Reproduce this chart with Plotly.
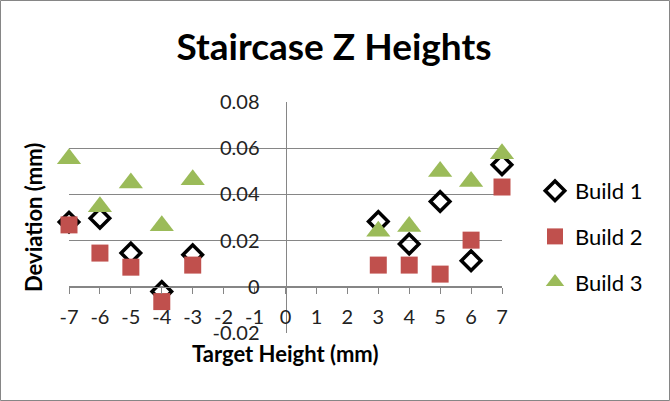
import plotly.graph_objects as go

# target heights (mm)
heights = [-7, -6, -5, -4, -3, 3, 4, 5, 6, 7]

# deviation (mm) per build
build1 = [0.028, 0.0297, 0.0146, -0.002, 0.0139, 0.0283, 0.0185, 0.0369, 0.0113, 0.0528]
build2 = [0.0268, 0.0146, 0.0085, -0.0064, 0.0094, 0.0094, 0.0094, 0.0055, 0.0202, 0.0432]
build3 = [0.0554, 0.0346, 0.0449, 0.0264, 0.0463, 0.024, 0.0261, 0.0499, 0.0456, 0.0576]

x_ticks = list(range(-7, 8))
x_labels = [str(v) for v in x_ticks]
y_ticks = [-0.02, 0, 0.02, 0.04, 0.06, 0.08]
y_labels = ['-0.02', '0', '0.02', '0.04', '0.06', '0.08']

FONT = 'Lato'
W, H = 670, 401
L, R, T, B = 69, 168, 102, 68
pw, ph = W - L - R, H - T - B

def px_x(p):
    return (p - L) / pw

def px_y(p):
    return (H - B - p) / ph

fig = go.Figure()
fig.add_trace(go.Scatter(
    x=heights, y=build1, mode='markers', name='Build 1', legendgroup='b1', cliponaxis=False,
    marker=dict(symbol='diamond-open', size=15, color='black', line=dict(width=3.5, color='black'))))
fig.add_trace(go.Scatter(
    x=heights, y=build2, mode='markers', name='Build 2', legendgroup='b2', cliponaxis=False,
    marker=dict(symbol='square', size=17, color='#C0504D')))
fig.add_trace(go.Scatter(
    x=heights, y=build3, mode='markers', name='Build 3', legendgroup='b3', cliponaxis=False,
    marker=dict(symbol='triangle-up', size=21, color='#9BBB59')))

fig.update_layout(
    width=W, height=H,
    margin=dict(l=L, r=R, t=T, b=B),
    paper_bgcolor='white', plot_bgcolor='white',
    font=dict(family=FONT, size=20, color='#222'),
    showlegend=True,
    legend=dict(x=px_x(535), y=px_y(170), xanchor='left', yanchor='top',
                font=dict(size=22, color='black'), tracegroupgap=14),
    xaxis=dict(range=[-7, 7], tickvals=x_ticks, ticktext=x_labels,
               anchor='free', position=0.2, showline=True, linecolor='#868686', linewidth=1,
               ticks='outside', ticklen=6, tickcolor='#868686', showgrid=False, zeroline=False,
               ticklabelstandoff=6),
    yaxis=dict(range=[-0.02, 0.08], tickvals=y_ticks, ticktext=y_labels,
               anchor='free', position=0.5, showline=True, linecolor='#868686', linewidth=1,
               ticks='', showgrid=True, gridcolor='#868686', gridwidth=1, zeroline=False,
               ticklabelstandoff=22),
    title=dict(text='<b>Staircase Z Heights</b>', xref='container', yref='container',
               x=334 / W, xanchor='center', y=1 - 47 / H, yanchor='middle',
               font=dict(size=37, color='black')),
)

fig.add_annotation(text='<b>Target Height (mm)</b>', xref='paper', yref='paper',
                   x=px_x(285), y=px_y(353), xanchor='center', yanchor='middle',
                   showarrow=False, font=dict(size=22, color='black'))
fig.add_annotation(text='<b>Deviation (mm)</b>', xref='paper', yref='paper',
                   x=px_x(33), y=px_y(218), xanchor='center', yanchor='middle',
                   showarrow=False, textangle=-90, font=dict(size=22, color='black'))

# outer chart border
fig.add_shape(type='rect', xref='paper', yref='paper',
              x0=px_x(0.5), x1=px_x(669.5), y0=px_y(400.5), y1=px_y(0.5),
              line=dict(color='#868686', width=1))

fig.write_html('out.html', config={'displayModeBar': False},
               post_script="document.body.style.margin='0';")
